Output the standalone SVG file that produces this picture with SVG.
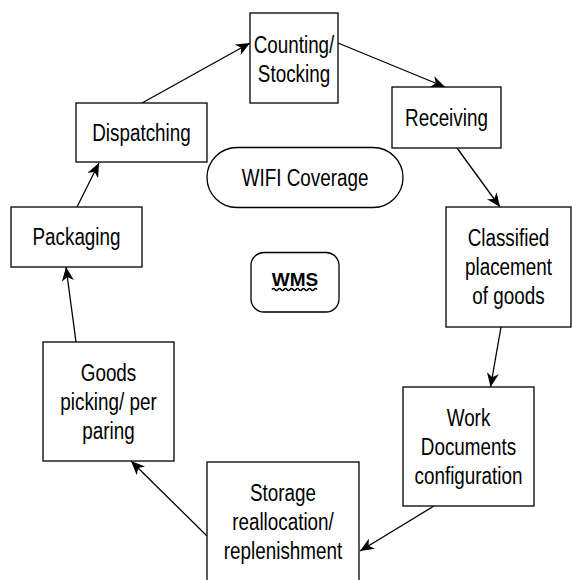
<svg xmlns="http://www.w3.org/2000/svg" width="572" height="580" viewBox="0 0 572 580">
<style>
.box{fill:#fff;stroke:#000;stroke-width:1.3}
.t{font-family:"Liberation Sans",Arial,sans-serif;font-size:23px;fill:#000;text-anchor:middle}
.b{font-family:"Liberation Sans",Arial,sans-serif;font-size:19px;font-weight:bold;fill:#000;text-anchor:middle}
.c{fill:none;stroke:#000;stroke-width:1.3}
</style>
<defs>
<marker id="arr" markerUnits="userSpaceOnUse" markerWidth="15" markerHeight="12" viewBox="0 0 15 12" refX="14" refY="6" orient="auto">
<path d="M0,0 L14,6 L0,12 L4,6 Z" fill="#000"/>
</marker>
</defs>
<rect width="572" height="580" fill="#fff"/>
<g id="connectors">
<line class="c" x1="142" y1="103" x2="250" y2="43" marker-end="url(#arr)"/>
<line class="c" x1="338" y1="43" x2="445" y2="87" marker-end="url(#arr)"/>
<line class="c" x1="457" y1="148" x2="500" y2="207" marker-end="url(#arr)"/>
<line class="c" x1="501" y1="327" x2="490.5" y2="387" marker-end="url(#arr)"/>
<line class="c" x1="434" y1="506" x2="360" y2="551" marker-end="url(#arr)"/>
<line class="c" x1="207" y1="536" x2="131" y2="461" marker-end="url(#arr)"/>
<line class="c" x1="76" y1="342" x2="66" y2="267" marker-end="url(#arr)"/>
<line class="c" x1="77" y1="207" x2="99" y2="163" marker-end="url(#arr)"/>
</g>
<g id="counting">
<rect class="box" x="250" y="13" width="88" height="90"/>
<text class="t" transform="translate(294,52.5) scale(0.82,1)">Counting/</text>
<text class="t" transform="translate(294,81.5) scale(0.82,1)">Stocking</text>
</g>
<g id="receiving">
<rect class="box" x="392" y="87" width="109" height="61"/>
<text class="t" transform="translate(446.5,126) scale(0.82,1)">Receiving</text>
</g>
<g id="classified">
<rect class="box" x="446" y="207" width="125" height="120"/>
<text class="t" transform="translate(508.5,246) scale(0.82,1)">Classified</text>
<text class="t" transform="translate(508.5,275) scale(0.82,1)">placement</text>
<text class="t" transform="translate(508.5,304) scale(0.82,1)">of goods</text>
</g>
<g id="workdocs">
<rect class="box" x="403" y="387" width="131" height="119"/>
<text class="t" transform="translate(468.5,425.5) scale(0.82,1)">Work</text>
<text class="t" transform="translate(468.5,454.5) scale(0.82,1)">Documents</text>
<text class="t" transform="translate(468.5,483.5) scale(0.82,1)">configuration</text>
</g>
<g id="storage">
<rect class="box" x="207" y="462" width="152" height="130"/>
<text class="t" transform="translate(283,501) scale(0.82,1)">Storage</text>
<text class="t" transform="translate(283,530) scale(0.82,1)">reallocation/</text>
<text class="t" transform="translate(283,559) scale(0.82,1)">replenishment</text>
</g>
<g id="goods">
<rect class="box" x="43" y="342" width="131" height="119"/>
<text class="t" transform="translate(108.5,380.5) scale(0.82,1)">Goods</text>
<text class="t" transform="translate(108.5,409.5) scale(0.82,1)">picking/ per</text>
<text class="t" transform="translate(108.5,438.5) scale(0.82,1)">paring</text>
</g>
<g id="packaging">
<rect class="box" x="11" y="207" width="131" height="60"/>
<text class="t" transform="translate(76.5,245) scale(0.82,1)">Packaging</text>
</g>
<g id="dispatching">
<rect class="box" x="76" y="103" width="131" height="59"/>
<text class="t" transform="translate(141.5,141) scale(0.82,1)">Dispatching</text>
</g>
<g id="wifi">
<rect class="box" x="207" y="147.5" width="196" height="60" rx="30" ry="30"/>
<text class="t" transform="translate(305,186) scale(0.82,1)">WIFI Coverage</text>
</g>
<g id="wms">
<rect class="box" x="251" y="252.5" width="88" height="59.5" rx="13" ry="13"/>
<text class="b" x="295" y="286">WMS</text>
<path d="M272,289.5 q1.5,-2 3,0 t3,0 t3,0 t3,0 t3,0 t3,0 t3,0 t3,0 t3,0 t3,0 t3,0 t3,0 t3,0 t3,0 t3,0" fill="none" stroke="#000" stroke-width="1.4"/>
</g>
</svg>
